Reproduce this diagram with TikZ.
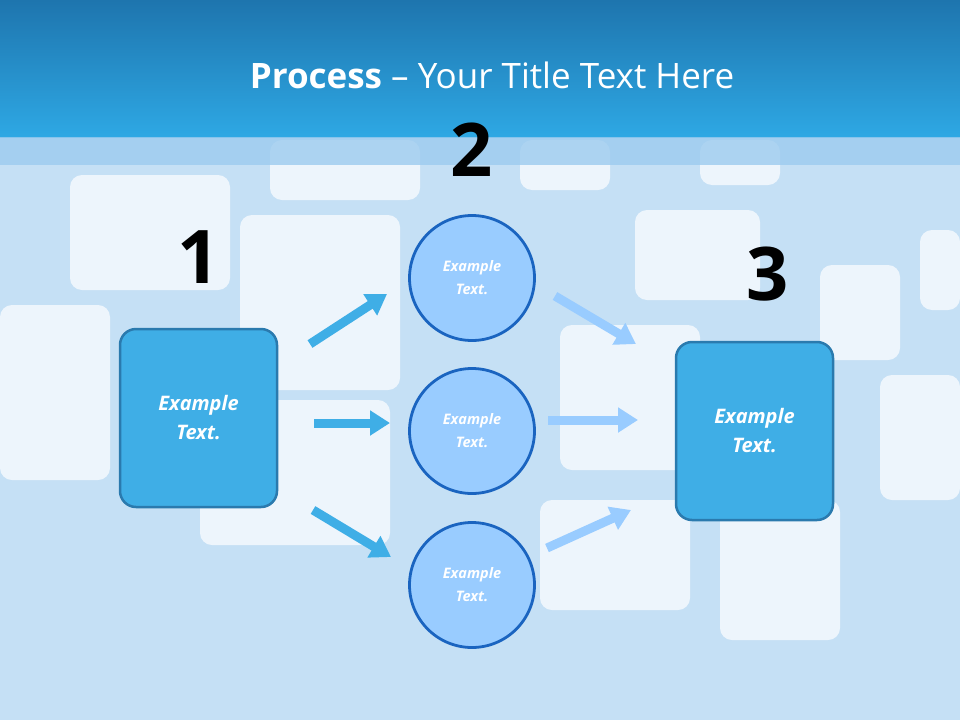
\documentclass[tikz,border=0pt]{standalone}
\usepackage{fontspec}
\setmainfont{Open Sans}
\usetikzlibrary{arrows.meta}
\definecolor{bg}{HTML}{C5E0F5}
\definecolor{hdtop}{HTML}{1E75AE}
\definecolor{hdbot}{HTML}{2EA8E4}
\definecolor{band}{HTML}{9CCBEF}
\definecolor{boxfill}{HTML}{3FAEE6}
\definecolor{boxedge}{HTML}{2A7AAE}
\definecolor{circfill}{HTML}{99CCFF}
\definecolor{circedge}{HTML}{1A64C0}
\definecolor{arrA}{HTML}{3FAEE6}
\definecolor{arrB}{HTML}{99CCFF}
\tikzset{
  x=1pt,y=-1pt,
  bubble/.style={fill=white,opacity=0.7,rounded corners=12pt},
  sqbox/.style={draw=boxedge,line width=2.5pt,fill=boxfill,rounded corners=16pt,minimum width=157pt,minimum height=178pt,text=white,font=\bfseries\itshape\fontsize{20}{29}\selectfont,align=center},
  circ/.style={circle,draw=circedge,line width=2.8pt,fill=circfill,minimum size=125pt,text=white,font=\bfseries\itshape\fontsize{14.5}{23}\selectfont,align=center},
  num/.style={font=\bfseries\fontsize{74}{74}\selectfont,text=black},
  arrowA/.style={draw=arrA,line width=9pt,-{Triangle[width=24pt,length=20pt]}},
  arrowB/.style={draw=arrB,line width=9pt,-{Triangle[width=24pt,length=20pt]}}
}
\begin{document}
\begin{tikzpicture}
\useasboundingbox (0,0) rectangle (960,720);
\fill[bg] (0,0) rectangle (960,720);
% speech bubbles background
\fill[bubble] (70,175) rectangle (230,290);
\fill[bubble] (240,215) rectangle (400,390);
\fill[bubble] (0,305) rectangle (110,480);
\fill[bubble] (200,400) rectangle (390,545);
\fill[bubble] (560,325) rectangle (700,470);
\fill[bubble] (635,210) rectangle (760,300);
\fill[bubble] (540,500) rectangle (690,610);
\fill[bubble] (720,500) rectangle (840,640);
\fill[bubble] (820,265) rectangle (900,360);
\fill[bubble] (880,375) rectangle (960,500);
\fill[bubble] (920,230) rectangle (960,310);
\fill[bubble] (270,140) rectangle (420,200);
\fill[bubble] (520,140) rectangle (610,190);
\fill[bubble] (700,140) rectangle (780,185);
% header
\shade[top color=hdtop,bottom color=hdbot] (0,0) rectangle (960,137);
\fill[band,opacity=0.8] (0,137) rectangle (960,165);
\node[text=white,font=\fontsize{35}{40}\selectfont] (title) at (492,75) {\textbf{Process} – Your Title Text Here};
% numbers
\node[num] (n1) at (199,257) {1};
\node[num] (n2) at (472,150) {2};
\node[num] (n3) at (768,274) {3};
% boxes
\node[sqbox] (b1) at (198.5,418) {Example\\Text.};
\node[sqbox] (b3) at (754.5,431) {Example\\Text.};
\node[circ] (c1) at (472,278) {Example\\Text.};
\node[circ] (c2) at (472,431) {Example\\Text.};
\node[circ] (c3) at (472,585) {Example\\Text.};
% arrows
\coordinate (a1s) at (310,344); \coordinate (a1e) at (387,294);
\coordinate (a2s) at (314,423); \coordinate (a2e) at (390,423);
\coordinate (a3s) at (313,510); \coordinate (a3e) at (391,557);
\coordinate (b1s) at (555,296); \coordinate (b1e) at (636,344);
\coordinate (b2s) at (548,420); \coordinate (b2e) at (638,420);
\coordinate (b3s) at (547,548); \coordinate (b3e) at (631,510);
\draw[arrowA] (a1s) -- (a1e);
\draw[arrowA] (a2s) -- (a2e);
\draw[arrowA] (a3s) -- (a3e);
\draw[arrowB] (b1s) -- (b1e);
\draw[arrowB] (b2s) -- (b2e);
\draw[arrowB] (b3s) -- (b3e);
\end{tikzpicture}
\end{document}
